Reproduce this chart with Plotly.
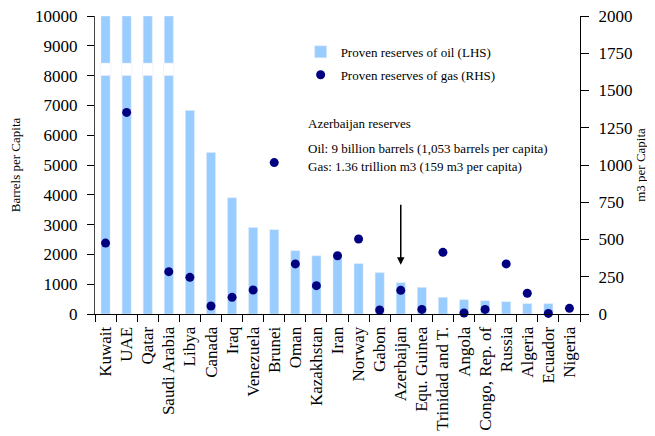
import plotly.graph_objects as go

countries = ["Kuwait", "UAE", "Qatar", "Saudi Arabia", "Libya", "Canada", "Iraq",
             "Venezuela", "Brunei", "Oman", "Kazakhstan", "Iran", "Norway", "Gabon",
             "Azerbaijan", "Equ. Guinea", "Trinidad and T.", "Angola", "Congo, Rep. of",
             "Russia", "Algeria", "Ecuador", "Nigeria"]
# Oil reserves, barrels per capita (first four bars are truncated at the axis top)
oil = [10000, 10000, 10000, 10000, 6830, 5420, 3900, 2900, 2830, 2125, 1955,
       1955, 1690, 1390, 1053, 895, 560, 480, 447, 414, 347, 347, 0]
# Gas reserves, m3 per capita (Qatar is off the scale)
gas = [476, 1353, None, 284, 246, 54, 112, 161, 1016, 336, 190,
       391, 503, 27, 159, 31, 414, 7, 31, 336, 139, 4, 38]
broken = [True, True, True, True] + [False] * 19
break_low, break_high = 8000, 8420
arrow_target = "Azerbaijan"
arrow_tip, arrow_tail = 1650, 3720

bar_color = "#99CCFF"
dot_color = "#000080"
font_family = "Liberation Serif, Times New Roman, serif"

fig = go.Figure()
fig.add_trace(go.Bar(x=countries, y=oil, marker_color=bar_color, width=0.43,
                     name="Proven reserves of oil (LHS)", yaxis="y", legendgroup="oil"))
brk_x = [c for c, b in zip(countries, broken) if b]
fig.add_trace(go.Bar(x=brk_x, y=[break_high - break_low] * len(brk_x), base=break_low,
                     marker_color="white", width=0.5, showlegend=False,
                     hoverinfo="skip", yaxis="y"))
fig.add_trace(go.Scatter(x=countries, y=gas, mode="markers", yaxis="y2",
                         marker=dict(color=dot_color, size=9), legendgroup="gas",
                         name="Proven reserves of gas (RHS)", cliponaxis=False))

n = len(countries)
bounds = [i - 0.5 for i in range(n + 1)]

fig.update_layout(
    width=647, height=428,
    margin=dict(l=87, r=75, t=8, b=122, autoexpand=False),
    paper_bgcolor="white", plot_bgcolor="white",
    barmode="overlay",
    font=dict(family=font_family, size=17, color="black"),
    showlegend=True,
    legend=dict(x=0.424, y=0.93, xanchor="left", yanchor="top",
                font=dict(size=13), bgcolor="rgba(0,0,0,0)",
                tracegroupgap=3, itemwidth=30),
    xaxis=dict(type="category", categoryorder="array", categoryarray=countries,
               range=[-0.5, n - 0.5], tickangle=-90, ticks="outside", ticklen=7,
               tickson="boundaries", showline=True, linecolor="black",
               tickcolor="black", showgrid=False, tickfont=dict(size=17),
               automargin=False, ticklabeloverflow="allow", ticklabelstandoff=5),
    xaxis2=dict(overlaying="x", anchor="y", range=[-0.5, n - 0.5], tickvals=bounds,
                ticks="inside", ticklen=6, tickcolor="black", showticklabels=False,
                showgrid=False, zeroline=False, showline=False, automargin=False),
    xaxis3=dict(overlaying="x", anchor="y", side="top", range=[-0.5, n - 0.5],
                showline=True, linecolor="#999999", showticklabels=False, ticks="",
                showgrid=False, zeroline=False, automargin=False),
    yaxis=dict(range=[0, 10000], dtick=1000, tickformat="d", ticks="outside", ticklen=7,
               showline=True, linecolor="#444444", tickcolor="black", showgrid=False,
               zeroline=False, ticklabelstandoff=6, automargin=False,
               ticklabeloverflow="allow",
               title=dict(text="Barrels per Capita", font=dict(size=13), standoff=13)),
    yaxis3=dict(overlaying="y", anchor="x", side="left", range=[0, 10000], dtick=1000,
                ticks="inside", ticklen=6, tickcolor="black", showticklabels=False,
                showgrid=False, zeroline=False, showline=False, automargin=False),
    yaxis2=dict(overlaying="y", anchor="x", side="right", range=[0, 2000], dtick=250,
                tickformat="d", ticks="outside", ticklen=8, showline=True,
                linecolor="black", tickcolor="black", showgrid=False, zeroline=False,
                ticklabelstandoff=6, automargin=False, ticklabeloverflow="allow",
                title=dict(text="m3 per Capita", font=dict(size=13), standoff=4)),
    yaxis4=dict(overlaying="y", anchor="x", side="right", range=[0, 2000], dtick=250,
                ticks="inside", ticklen=7, tickcolor="black", showticklabels=False,
                showgrid=False, zeroline=False, showline=False, automargin=False),
)

ann_font = dict(size=13, family=font_family, color="black")
fig.add_annotation(xref="paper", yref="paper", x=0.435, y=0.6376, xanchor="left",
                   yanchor="middle", text="Azerbaijan reserves", showarrow=False,
                   font=ann_font)
fig.add_annotation(xref="paper", yref="paper", x=0.435, y=0.556, xanchor="left",
                   yanchor="middle",
                   text="Oil: 9 billion barrels (1,053 barrels per capita)",
                   showarrow=False, font=ann_font)
fig.add_annotation(xref="paper", yref="paper", x=0.435, y=0.495, xanchor="left",
                   yanchor="middle", text="Gas: 1.36 trillion m3 (159 m3 per capita)",
                   showarrow=False, font=ann_font)
fig.add_annotation(x=arrow_target, y=arrow_tip, xref="x", yref="y",
                   ax=arrow_target, ay=arrow_tail, axref="x", ayref="y",
                   showarrow=True, arrowhead=2, arrowsize=1, arrowwidth=1.5,
                   arrowcolor="black", text="")

fig.write_html("out.html")
